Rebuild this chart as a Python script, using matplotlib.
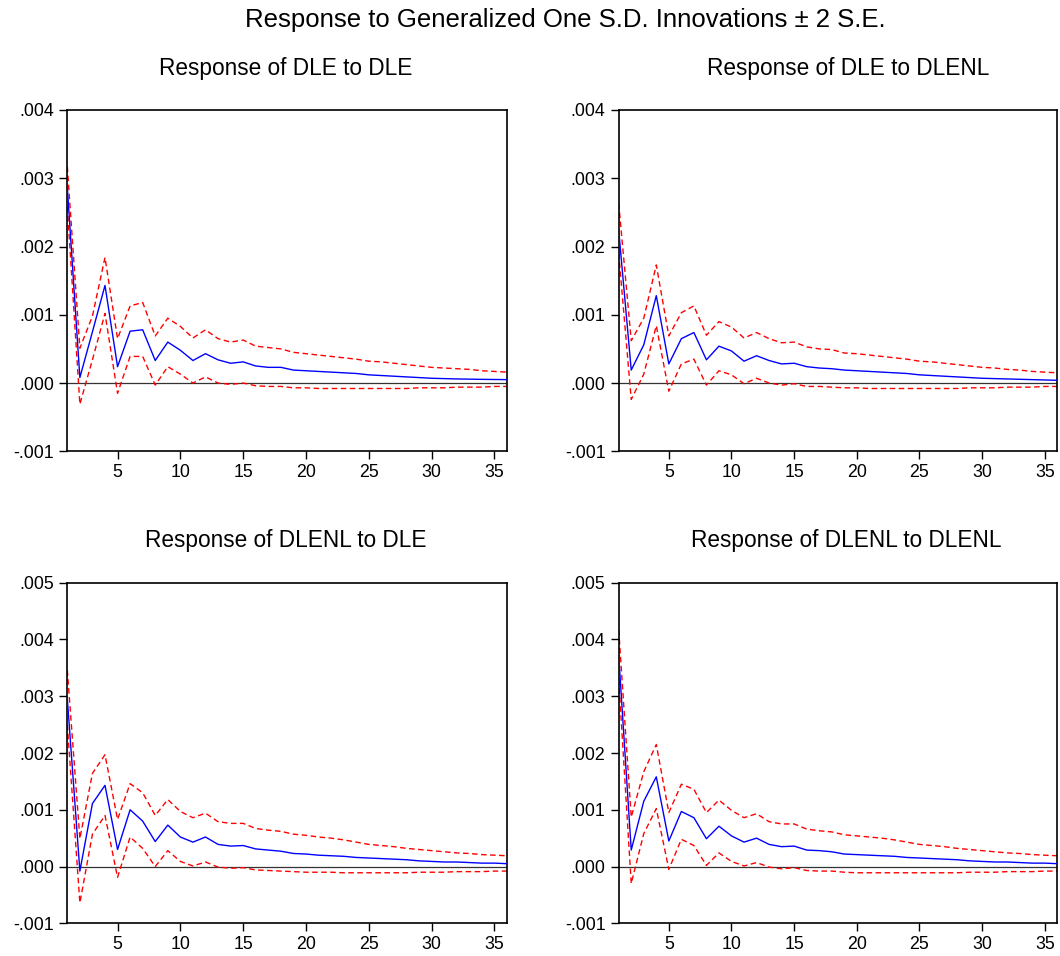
import matplotlib
matplotlib.use("Agg")
import matplotlib.pyplot as plt
import numpy as np

plt.rcParams['font.family'] = ['Liberation Sans', 'DejaVu Sans']

periods = list(range(1, 37))

title_main = "Response to Generalized One S.D. Innovations \u00b1 2 S.E."
titles = ["Response of DLE to DLE", "Response of DLE to DLENL",
          "Response of DLENL to DLE", "Response of DLENL to DLENL"]

# Panel 1: DLE to DLE
p1_resp = [.00287, .00008, .00075, .00143, .00024, .00076, .00078, .00033, .00060, .00048,
           .00033, .00043, .00034, .00029, .00031, .00025, .00023, .00023, .00019, .00018,
           .00017, .00016, .00015, .00014, .00012, .00011, .00010, .00009, .00008, .00007,
           .000065, .00006, .000057, .000054, .000052, .00005]
p1_up = [.00317, .00051, .00098, .00184, .00065, .00113, .00118, .00069, .00095, .00083,
         .00066, .00078, .00065, .00060, .00063, .00054, .00052, .00050, .00045, .00043,
         .00041, .00039, .00037, .00035, .00032, .00031, .00029, .00027, .00025, .00023,
         .00022, .00021, .00020, .00018, .00017, .00016]
p1_lo = [.00258, -.00031, .00034, .00102, -.00015, .00039, .00039, -.00003, .00024, .00013,
         .00000, .00009, .00000, -.00002, .00000, -.00004, -.00005, -.00005, -.00007, -.00007,
         -.00008, -.00008, -.00008, -.00008, -.00008, -.00008, -.00008, -.00008, -.00007, -.00007,
         -.00007, -.00006, -.00006, -.00006, -.00005, -.00005]

# Panel 2: DLE to DLENL
p2_resp = [.00224, .00019, .00056, .00128, .00028, .00065, .00074, .00034, .00054, .00047,
           .00032, .00040, .00033, .00028, .00029, .00024, .00022, .00021, .00019, .00018,
           .00017, .00016, .00015, .00014, .00012, .00011, .00010, .00009, .00008, .00007,
           .000065, .00006, .000055, .00005, .000045, .00004]
p2_up = [.00263, .00062, .00095, .00173, .00069, .00103, .00113, .00070, .00090, .00082,
         .00066, .00074, .00065, .00059, .00060, .00053, .00050, .00049, .00044, .00043,
         .00041, .00039, .00037, .00035, .00032, .00031, .00029, .00027, .00025, .00023,
         .00022, .00020, .00019, .00017, .00016, .00015]
p2_lo = [.00190, -.00024, .00013, .00084, -.00012, .00028, .00035, -.00003, .00018, .00012,
         -.00001, .00007, .00000, -.00003, -.00001, -.00005, -.00005, -.00006, -.00007, -.00007,
         -.00008, -.00008, -.00008, -.00008, -.00008, -.00008, -.00008, -.00008, -.00007, -.00007,
         -.00007, -.00006, -.00006, -.00006, -.00005, -.00005]

# Panel 3: DLENL to DLE
p3_resp = [.00296, -.00008, .00111, .00143, .00030, .00100, .00080, .00044, .00073, .00052,
           .00043, .00052, .00039, .00036, .00037, .00031, .00029, .00027, .00023, .00022,
           .00020, .00019, .00018, .00016, .00015, .00014, .00013, .00012, .00010, .00009,
           .00008, .00008, .00007, .00006, .00006, .00005]
p3_up = [.00346, .00049, .00164, .00197, .00083, .00146, .00130, .00090, .00118, .00097,
         .00086, .00094, .00079, .00076, .00076, .00067, .00064, .00062, .00057, .00055,
         .00052, .00050, .00047, .00043, .00039, .00037, .00035, .00032, .00030, .00028,
         .00026, .00024, .00023, .00021, .00020, .00019]
p3_lo = [.00250, -.00064, .00057, .00090, -.00019, .00052, .00032, .00000, .00028, .00009,
         .00001, .00008, -.00001, -.00003, -.00002, -.00006, -.00007, -.00008, -.00009, -.00010,
         -.00010, -.00010, -.00011, -.00011, -.00011, -.00011, -.00011, -.00011, -.00010, -.00010,
         -.00010, -.00009, -.00009, -.00009, -.00008, -.00008]

# Panel 4: DLENL to DLENL
p4_resp = [.00372, .00029, .00115, .00158, .00045, .00097, .00086, .00049, .00071, .00054,
           .00043, .00050, .00039, .00035, .00036, .00029, .00028, .00026, .00022, .00021,
           .00020, .00019, .00018, .00016, .00015, .00014, .00013, .00012, .00010, .00009,
           .00008, .00008, .00007, .00006, .00006, .00005]
p4_up = [.00417, .00087, .00167, .00215, .00095, .00145, .00136, .00095, .00117, .00099,
         .00086, .00093, .00079, .00075, .00075, .00066, .00063, .00061, .00056, .00054,
         .00052, .00050, .00047, .00043, .00039, .00037, .00035, .00032, .00030, .00028,
         .00026, .00024, .00023, .00021, .00020, .00019]
p4_lo = [.00330, -.00030, .00058, .00102, -.00005, .00048, .00037, .00002, .00024, .00009,
         .00001, .00007, -.00001, -.00004, -.00002, -.00007, -.00008, -.00008, -.00010, -.00011,
         -.00011, -.00011, -.00011, -.00011, -.00011, -.00011, -.00011, -.00011, -.00010, -.00010,
         -.00010, -.00009, -.00009, -.00009, -.00008, -.00008]

yticks_top = [-.001, .000, .001, .002, .003, .004]
ytick_labels_top = ["-.001", ".000", ".001", ".002", ".003", ".004"]
yticks_bot = [-.001, .000, .001, .002, .003, .004, .005]
ytick_labels_bot = ["-.001", ".000", ".001", ".002", ".003", ".004", ".005"]
xticks = [5, 10, 15, 20, 25, 30, 35]

W, H = 1060, 956
fig = plt.figure(figsize=(W / 100, H / 100), dpi=100)

panels = [
    (p1_resp, p1_up, p1_lo, (67.3, 110, 507, 451.3), yticks_top, ytick_labels_top, (286, 69)),
    (p2_resp, p2_up, p2_lo, (618.7, 110, 1057.3, 451.3), yticks_top, ytick_labels_top, (848, 69)),
    (p3_resp, p3_up, p3_lo, (67.3, 582.7, 507, 923.3), yticks_bot, ytick_labels_bot, (286, 541)),
    (p4_resp, p4_up, p4_lo, (618.7, 582.7, 1057.3, 923.3), yticks_bot, ytick_labels_bot, (846, 541)),
]

for i, (resp, up, lo, (x0, y0, x1, y1), yt, ytl, (tx, ty)) in enumerate(panels):
    ax = fig.add_axes([x0 / W, 1 - y1 / H, (x1 - x0) / W, (y1 - y0) / H])
    ax.axhline(0, color='#333333', lw=0.9, zorder=1)
    ax.plot(periods, up, color='#ff0000', lw=1.0, ls=(0, (4, 2.5)), zorder=2)
    ax.plot(periods, lo, color='#ff0000', lw=1.0, ls=(0, (4, 2.5)), zorder=2)
    ax.plot(periods, resp, color='#0000ff', lw=1.0, zorder=3)
    ax.set_xlim(1, 36)
    ax.set_ylim(yt[0], yt[-1])
    ax.set_xticks(xticks)
    ax.set_xticklabels([str(t) for t in xticks])
    ax.set_yticks(yt)
    ax.set_yticklabels(ytl)
    ax.tick_params(axis='both', direction='out', length=6, width=1, labelsize=12.8,
                   color='black', pad=3.5)
    for s in ax.spines.values():
        s.set_linewidth(1.2)
        s.set_color('black')
    fig.text(tx / W, 1 - ty / H, titles[i], ha='center', va='center', fontsize=16.3)

fig.text(565 / W, 1 - 20 / H, title_main, ha='center', va='center', fontsize=18.5)

fig.savefig("out.png", dpi=100)
